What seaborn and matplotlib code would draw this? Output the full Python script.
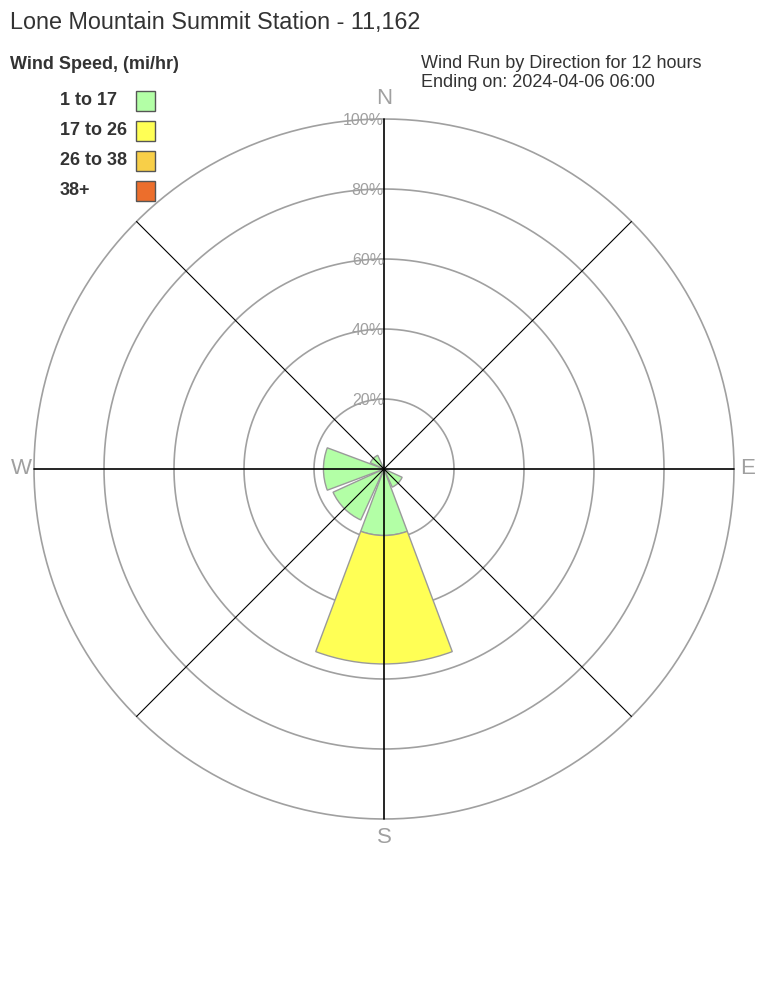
"""
Rosa dos ventos - Lone Mountain Summit Station
"""

import numpy as np
import matplotlib.pyplot as plt
import seaborn as sns
from matplotlib.patches import Rectangle

# dados (percentual do vento por direção)
directions = ['N', 'NE', 'E', 'SE', 'S', 'SW', 'W', 'NW']
angles_deg = [0, 45, 90, 135, 180, 225, 270, 315]
speed_bins = ['1 to 17', '17 to 26', '26 to 38', '38+']
bin_colors = ['#b3ffa6', '#ffff55', '#f8cf48', '#ec6e2c']
pct_1_17 = [0, 0, 0, 5.7, 19.0, 16.0, 17.3, 4.3]
pct_17_26 = [0, 0, 0, 0, 36.7, 0, 0, 0]
pct_26_38 = [0, 0, 0, 0, 0, 0, 0, 0]
pct_38_up = [0, 0, 0, 0, 0, 0, 0, 0]
ring_values = [20, 40, 60, 80, 100]

title = 'Lone Mountain Summit Station - 11,162'
subtitle_1 = 'Wind Run by Direction for 12 hours'
subtitle_2 = 'Ending on: 2024-04-06 06:00'

sns.set_style("white")
plt.rcParams['font.family'] = ['Liberation Sans', 'DejaVu Sans']

W, H = 768, 1008
fig = plt.figure(figsize=(W / 100, H / 100), dpi=100)
fig.patch.set_facecolor('white')

# eixo polar: centro em (384, 469) px, raio 350 px
ax = fig.add_axes([34 / W, (H - 819) / H, 700 / W, 700 / H], projection='polar')
ax.set_theta_zero_location('N')
ax.set_theta_direction(-1)
ax.set_ylim(0, 100)
ax.grid(False)
ax.spines['polar'].set_visible(False)
ax.set_xticks([])
ax.set_yticks([])
ax.set_facecolor('none')

grey = '#a0a0a0'
theta_circle = np.linspace(0, 2 * np.pi, 400)
for r in ring_values:
    ax.plot(theta_circle, np.full_like(theta_circle, r), color=grey, lw=1.2, zorder=1, clip_on=False)

# barras empilhadas
theta = np.deg2rad(angles_deg)
bottom = np.zeros(len(directions))
for vals, c in zip([pct_1_17, pct_17_26, pct_26_38, pct_38_up], bin_colors):
    vals = np.array(vals, dtype=float)
    mask = vals > 0
    if mask.any():
        ax.bar(theta[mask], vals[mask], width=np.deg2rad(41), bottom=bottom[mask],
               color=c, edgecolor='#9a9a9a', linewidth=1, zorder=2)
    bottom += vals

# raios pretos
for a in angles_deg:
    lw = 1.2 if a % 90 == 0 else 0.8
    ax.plot([np.deg2rad(a)] * 2, [0, 100], color='black', lw=lw, zorder=4, clip_on=False)

# rótulos dos anéis
for r in ring_values:
    ax.text(0, r - 0.5, f'{r}%', ha='right', va='center', color=grey, fontsize=11.5, zorder=5)

# pontos cardeais
for lab, a, r in [('N', 0, 105.8), ('E', 90, 103.8), ('S', 180, 105.2), ('W', 270, 103.6)]:
    ax.text(np.deg2rad(a), r, lab, ha='center', va='center', color=grey, fontsize=16, clip_on=False)

# textos
dark = '#333333'
fig.text(10 / W, 1 - 29 / H, title, fontsize=16.8, color=dark, va='baseline')
fig.text(10 / W, 1 - 69 / H, 'Wind Speed, (mi/hr)', fontsize=13, fontweight='bold', color=dark, va='baseline')
fig.text(421 / W, 1 - 68 / H, subtitle_1, fontsize=13, color=dark, va='baseline')
fig.text(421 / W, 1 - 87 / H, subtitle_2, fontsize=13, color=dark, va='baseline')

# legenda manual
for i, (lab, c) in enumerate(zip(speed_bins, bin_colors)):
    yc = 100.7 + 30 * i
    fig.text(60 / W, 1 - yc / H, lab, fontsize=13, fontweight='bold', color=dark, va='center')
    fig.patches.append(Rectangle((136 / W, 1 - (yc + 10) / H), 19 / W, 20 / H,
                                 transform=fig.transFigure, facecolor=c, edgecolor='#555555', lw=1))

fig.savefig('out.png', dpi=100)
